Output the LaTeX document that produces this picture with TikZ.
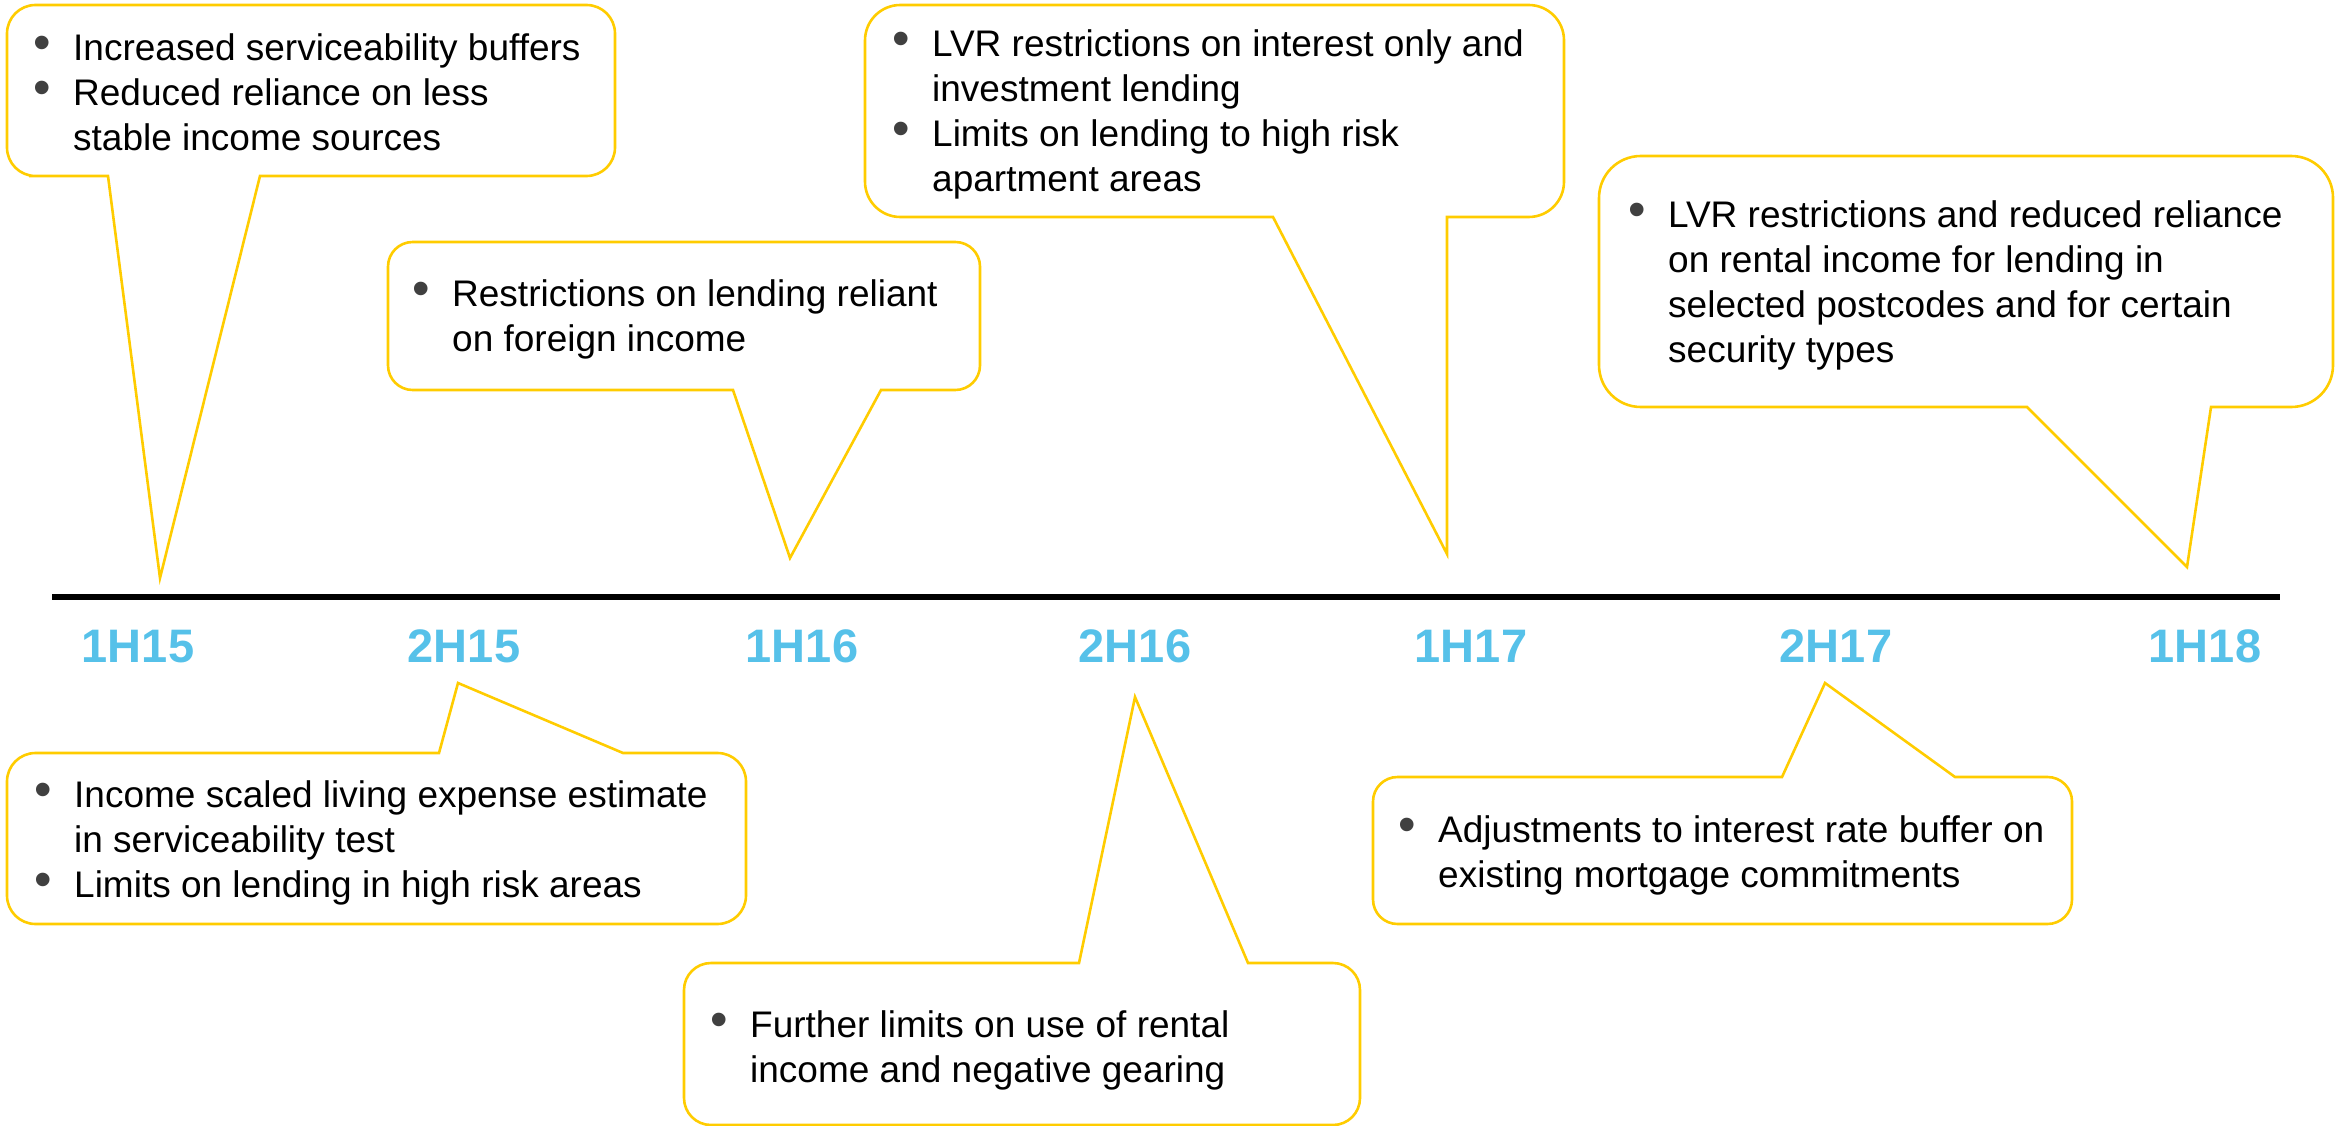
\documentclass[tikz,border=0pt]{standalone}
\usepackage{fontspec}
\setmainfont{Liberation Sans}
\usepackage{xcolor}
\usepackage{tikz}

\definecolor{calloutgold}{RGB}{255,204,0}
\definecolor{periodblue}{RGB}{86,193,233}
\definecolor{bulletgray}{RGB}{64,64,64}

\newcommand{\bul}{\makebox[0pt][r]{\textcolor{bulletgray}{\raisebox{1pt}{\scalebox{1.35}{\char"2022}}}\hspace{22pt}}}
\newcommand{\items}[1]{\begin{tabular}[t]{@{}l@{}}#1\end{tabular}}
% left, right, pointer edge, far edge, pointer base a, pointer base b, tip
\newcommand{\bubble}[8]{%
  \draw[bubbleline] (#7,#8) -- (#6,#3) -- ({(#6+#2)/2},#3)
    [rounded corners={abs(#4-#3)/6}] -- (#2,#3) -- (#2,#4) -- (#1,#4) -- (#1,#3) -- ({(#1+#5)/2},#3)
    [sharp corners] -- (#5,#3) -- cycle;}

\begin{document}
\begin{tikzpicture}[x=1pt, y=-1pt,
  bubbleline/.style={draw=calloutgold, line width=2.6pt, fill=white},
  note/.style={anchor=base west, inner sep=0pt, font=\fontsize{37}{45}\selectfont},
  period/.style={anchor=base, inner sep=0pt, text=periodblue, font=\fontsize{47}{50}\selectfont\bfseries}]
\useasboundingbox (0,0) rectangle (2341,1126);

% timeline
\coordinate (tlstart) at (52,597);
\coordinate (tlend) at (2280,597);
\draw[line width=6.5pt] (tlstart) -- (tlend);
\foreach \x/\h in {138/1H15, 464/2H15, 802/1H16, 1135/2H16, 1471/1H17, 1836/2H17, 2205/1H18}
  \node[period] (p\h) at (\x,662) {\h};

% callouts above the line
\bubble{7}{615}{176}{5}{108}{260}{160}{578}
\bubble{388}{980}{390}{242}{733}{881}{790}{558}
\bubble{865}{1564}{217}{5}{1273}{1447}{1447}{554}
\bubble{1599}{2333}{407}{156}{2027}{2211}{2187}{567}

% callouts below the line
\bubble{7}{746}{753}{924}{439}{623}{458}{683}
\bubble{684}{1360}{963}{1125}{1079}{1248}{1135}{697}
\bubble{1373}{2072}{777}{924}{1782}{1955}{1825}{683}

\node[note] (serviceability) at (73,61) {\items{\bul Increased serviceability buffers\\ \bul Reduced reliance on less\\ stable income sources}};
\node[note] (foreign) at (452,306) {\items{\bul Restrictions on lending reliant\\ on foreign income}};
\node[note] (interestonly) at (932,57) {\items{\bul LVR restrictions on interest only and\\ investment lending\\ \bul Limits on lending to high risk\\ apartment areas}};
\node[note] (postcodes) at (1668,227) {\items{\bul LVR restrictions and reduced reliance\\ on rental income for lending in\\ selected postcodes and for certain\\ security types}};
\node[note] (expenses) at (74,807) {\items{\bul Income scaled living expense estimate\\ in serviceability test\\ \bul Limits on lending in high risk areas}};
\node[note] (gearing) at (750,1037) {\items{\bul Further limits on use of rental\\ income and negative gearing}};
\node[note] (ratebuffer) at (1438,842) {\items{\bul Adjustments to interest rate buffer on\\ existing mortgage commitments}};
\end{tikzpicture}
\end{document}
